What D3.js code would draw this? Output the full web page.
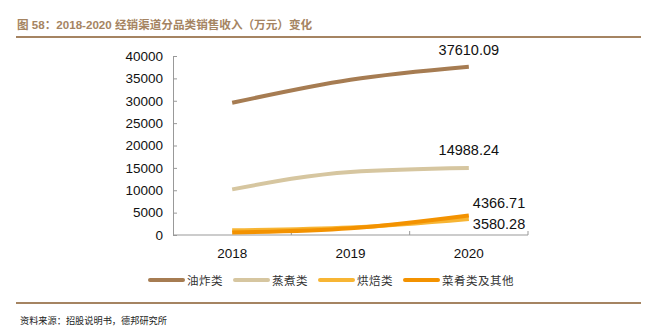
<!DOCTYPE html>
<html><head><meta charset="utf-8">
<script src="https://cdn.jsdelivr.net/npm/d3@7"></script>
<style>body{margin:0;background:#fff}svg{display:block}</style>
</head><body>
<script>
const years = ["2018", "2019", "2020"];
const seriesNames = ["油炸类", "蒸煮类", "烘焙类", "菜肴类及其他"];
const friedValues = [29550, 34700, 37610.09];
const steamedValues = [10200, 14100, 14988.24];
const bakedValues = [1050, 1650, 3580.28];
const dishesValues = [550, 1500, 4366.71];
const yTicks = [0, 5000, 10000, 15000, 20000, 25000, 30000, 35000, 40000];
const endLabels = ["37610.09", "14988.24", "4366.71", "3580.28"];
const colors = ["#A67C52", "#D6C6A0", "#F7B534", "#F39200"];

const W = 661, H = 327;
const svg = d3.select("body").append("svg").attr("width", W).attr("height", H);
const brown = "#A58462";

svg.append("text").attr("x", 17).attr("y", 29)
  .attr("font-family", "'Liberation Sans','Noto Sans CJK SC',sans-serif")
  .attr("font-weight", "bold").attr("font-size", 11.6).attr("fill", brown)
  .text("图 58：2018-2020 经销渠道分品类销售收入（万元）变化");
svg.append("line").attr("x1", 16).attr("x2", 641).attr("y1", 37).attr("y2", 37)
  .attr("stroke", brown).attr("stroke-width", 2);
svg.append("line").attr("x1", 16).attr("x2", 641).attr("y1", 303).attr("y2", 303)
  .attr("stroke", brown).attr("stroke-width", 2);
svg.append("text").attr("x", 20).attr("y", 324)
  .attr("font-family", "'Noto Sans CJK SC',sans-serif").attr("font-size", 9.2).attr("fill", "#222")
  .text("资料来源：招股说明书，德邦研究所");

const x = d3.scaleBand().domain(years).range([173, 528]);
const y = d3.scaleLinear().domain([0, 40000]).range([235, 56]);

const gy = svg.append("g").attr("transform", "translate(173,0)")
  .call(d3.axisLeft(y).tickValues(yTicks).tickSize(-4).tickPadding(10).tickFormat(d3.format("d")));
const gx = svg.append("g").attr("transform", "translate(0,235)")
  .call(d3.axisBottom(x).tickSize(0).tickPadding(13));
// band boundary ticks on x axis
const bounds = [173, 173 + x.step(), 173 + 2 * x.step(), 528];
svg.append("g").selectAll("line").data(bounds.slice(1)).join("line")
  .attr("x1", d => d).attr("x2", d => d).attr("y1", 231).attr("y2", 235)
  .attr("stroke", "#999");
[gy, gx].forEach(g => {
  g.selectAll("path,line").attr("stroke", "#999");
  g.selectAll("text").attr("font-family", "'Liberation Sans',Arial,sans-serif")
    .attr("font-size", 13.5).attr("fill", "#111");
});
gx.select(".domain").attr("d", "M173,0H528");

const allSeries = [friedValues, steamedValues, bakedValues, dishesValues];
const line = d3.line().x((d, i) => x(years[i]) + x.bandwidth() / 2).y(d => y(d))
  .curve(d3.curveMonotoneX);
allSeries.forEach((vals, k) => {
  svg.append("path").attr("d", line(vals)).attr("fill", "none")
    .attr("stroke", colors[k]).attr("stroke-width", 4).attr("stroke-linecap", "butt");
});

const cx = x("2020") + x.bandwidth() / 2;
const labelPos = [
  {x: cx, y: 55, anchor: "middle"},
  {x: cx, y: 155, anchor: "middle"},
  {x: cx + 4, y: 208, anchor: "start"},
  {x: cx + 4, y: 229, anchor: "start"}
];
endLabels.forEach((t, i) => {
  svg.append("text").attr("x", labelPos[i].x).attr("y", labelPos[i].y)
    .attr("text-anchor", labelPos[i].anchor)
    .attr("font-family", "'Liberation Sans',Arial,sans-serif").attr("font-size", 14.5).attr("fill", "#111")
    .text(t);
});

const legX = [150, 235, 320, 405];
seriesNames.forEach((n, i) => {
  svg.append("line").attr("x1", legX[i]).attr("x2", legX[i] + 33).attr("y1", 280).attr("y2", 280)
    .attr("stroke", colors[i]).attr("stroke-width", 4).attr("stroke-linecap", "round");
  svg.append("text").attr("x", legX[i] + 37).attr("y", 285)
    .attr("font-family", "'Noto Sans CJK SC',sans-serif").attr("font-size", 11.5).attr("fill", "#333")
    .attr("letter-spacing", 0.5)
    .text(n);
});
</script>
</body></html>
